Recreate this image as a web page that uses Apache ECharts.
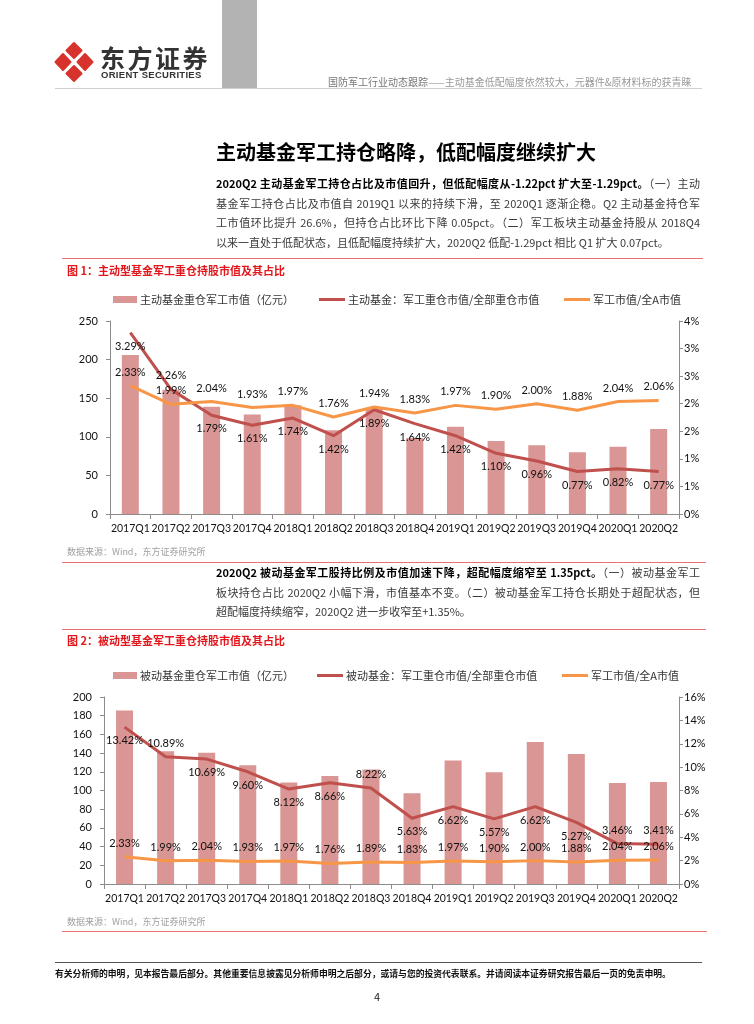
<!DOCTYPE html>
<html>
<head>
<meta charset="utf-8">
<script src="https://cdn.jsdelivr.net/npm/echarts@6/dist/echarts.min.js"></script>
<style>
  html, body { margin: 0; padding: 0; background: #fff; }
  #page { position: relative; width: 754px; height: 1024px; overflow: hidden; font-family: "Noto Sans CJK SC", sans-serif; }
  #chart { position: absolute; left: 0; top: 0; width: 754px; height: 1024px; }
  .t { position: absolute; white-space: nowrap; }
  .line { position: absolute; left: 216px; width: 484px; font-size: 11px; line-height: 19.5px; color: #3a3a3a; white-space: nowrap; text-align: justify; text-align-last: justify; }
  .line b { color: #000; }
  .rule { position: absolute; height: 0; }
</style>
</head>
<body>
<div id="page">
  <div id="chart"></div>

  <!-- header -->
  <div class="t" style="left:222px;top:0;width:35px;height:89px;background:#b3b3b3;"></div>
  <svg class="t" style="left:0;top:0" width="120" height="90">
    <g fill="#d7332c" stroke="#d7332c" stroke-width="2" stroke-linejoin="round">
      <polygon points="74,43 81.5,50.5 74,58 66.5,50.5"/>
      <polygon points="74,66 81.5,73.5 74,81 66.5,73.5"/>
      <polygon points="63,54 70.5,62 63,70 55.5,62"/>
      <polygon points="85,54 92.5,62 85,70 77.5,62"/>
    </g>
  </svg>
  <div class="t" style="left:100px;top:42px;font-size:25px;line-height:30px;font-weight:700;color:#333;letter-spacing:2.5px;">东方证券</div>
  <div class="t" style="left:101px;top:69px;font-size:9.5px;line-height:12px;font-weight:700;color:#333;font-family:'Liberation Sans',sans-serif;letter-spacing:0.3px;">ORIENT SECURITIES</div>
  <div class="t" style="left:328px;top:75px;font-size:10px;line-height:14px;color:#999;"><span style="color:#777">国防军工行业动态跟踪</span>——主动基金低配幅度依然较大，元器件&amp;原材料标的获青睐</div>
  <div class="rule" style="left:55px;top:88px;width:647px;border-top:1.5px solid #d0d0d0;"></div>

  <!-- section 1 -->
  <div class="t" style="left:216px;top:138px;font-size:20px;line-height:28px;font-weight:700;color:#000;">主动基金军工持仓略降，低配幅度继续扩大</div>
  <div class="line" style="top:174px;"><b>2020Q2 主动基金军工持仓占比及市值回升，但低配幅度从-1.22pct 扩大至-1.29pct。</b>（一）主动</div>
  <div class="line" style="top:193.5px;">基金军工持仓占比及市值自 2019Q1 以来的持续下滑，至 2020Q1 逐渐企稳。Q2 主动基金持仓军</div>
  <div class="line" style="top:213px;">工市值环比提升 26.6%，但持仓占比环比下降 0.05pct。（二）军工板块主动基金持股从 2018Q4</div>
  <div class="line" style="top:232.5px;text-align-last:left;">以来一直处于低配状态，且低配幅度持续扩大，2020Q2 低配-1.29pct 相比 Q1 扩大 0.07pct。</div>
  <div class="rule" style="left:62px;top:258px;width:641px;border-top:1.5px solid #e87070;"></div>
  <div class="t" style="left:67px;top:262px;font-size:11px;line-height:16px;font-weight:700;color:#e3161b;">图 1：主动型基金军工重仓持股市值及其占比</div>
  <div class="t" style="left:67px;top:545px;font-size:9px;line-height:13px;color:#a0a0a0;">数据来源：Wind，东方证券研究所</div>
  <div class="rule" style="left:62px;top:562px;width:644px;border-top:1.5px solid #e87070;"></div>

  <!-- section 2 -->
  <div class="line" style="top:563px;"><b>2020Q2 被动基金军工股持比例及市值加速下降，超配幅度缩窄至 1.35pct。</b>（一）被动基金军工</div>
  <div class="line" style="top:582.5px;">板块持仓占比 2020Q2 小幅下滑，市值基本不变。（二）被动基金军工持仓长期处于超配状态，但</div>
  <div class="line" style="top:602px;text-align-last:left;">超配幅度持续缩窄，2020Q2 进一步收窄至+1.35%。</div>
  <div class="rule" style="left:62px;top:629px;width:644px;border-top:1.5px solid #e87070;"></div>
  <div class="t" style="left:67px;top:632px;font-size:11px;line-height:16px;font-weight:700;color:#e3161b;">图 2：被动型基金军工重仓持股市值及其占比</div>
  <div class="t" style="left:67px;top:915px;font-size:9px;line-height:13px;color:#a0a0a0;">数据来源：Wind，东方证券研究所</div>
  <div class="rule" style="left:62px;top:931px;width:645px;border-top:1.5px solid #e87070;"></div>

  <!-- footer -->
  <div class="rule" style="left:55px;top:962px;width:647px;border-top:1px solid #555;"></div>
  <div class="t" style="left:55px;top:967px;font-size:8.8px;line-height:13px;font-weight:700;color:#111;">有关分析师的申明，见本报告最后部分。其他重要信息披露见分析师申明之后部分，或请与您的投资代表联系。并请阅读本证券研究报告最后一页的免责申明。</div>
  <div class="t" style="left:374px;top:989px;font-size:11px;line-height:14px;color:#222;">4</div>
</div>

<script>
// 数据
var categories = ['2017Q1', '2017Q2', '2017Q3', '2017Q4', '2018Q1', '2018Q2', '2018Q3',
                  '2018Q4', '2019Q1', '2019Q2', '2019Q3', '2019Q4', '2020Q1', '2020Q2'];

// 图1 主动基金
var activeValue = [206, 161, 139, 129, 141, 108.5, 137.5, 98.5, 113, 94.5, 89, 80, 87, 110];
var activeShare = [3.29, 2.26, 1.79, 1.61, 1.74, 1.42, 1.89, 1.64, 1.42, 1.10, 0.96, 0.77, 0.82, 0.77];
var militaryShare1 = [2.33, 1.99, 2.04, 1.93, 1.97, 1.76, 1.94, 1.83, 1.97, 1.90, 2.00, 1.88, 2.04, 2.06];

// 图2 被动基金
var passiveValue = [185.5, 142, 140.5, 127, 108.5, 115.5, 122.5, 97, 132, 119.5, 152, 139, 108, 109];
var passiveShare = [13.42, 10.89, 10.69, 9.60, 8.12, 8.66, 8.22, 5.63, 6.62, 5.57, 6.62, 5.27, 3.46, 3.41];
var militaryShare2 = [2.33, 1.99, 2.04, 1.93, 1.97, 1.76, 1.89, 1.83, 1.97, 1.90, 2.00, 1.88, 2.04, 2.06];

// 标签放在线的上方还是下方
var activeLabelPos = ['bottom', 'top', 'bottom', 'bottom', 'bottom', 'bottom', 'bottom',
                      'bottom', 'bottom', 'bottom', 'bottom', 'bottom', 'bottom', 'bottom'];
var passiveLabelPos = ['bottom', 'top', 'bottom', 'bottom', 'bottom', 'bottom', 'top',
                       'bottom', 'bottom', 'bottom', 'bottom', 'bottom', 'top', 'top'];

var BAR = '#d99694', RED = '#c0504d', ORANGE = '#f79646', AXIS = '#8c8c8c';
var numFont = 'Lato, "Liberation Sans", sans-serif';
var cjkFont = '"Noto Sans CJK SC", sans-serif';

var myChart = echarts.init(document.getElementById('chart'));

function xAxisOf(grid) {
  return {
    type: 'category', gridIndex: grid, data: categories, boundaryGap: true,
    axisLine: { lineStyle: { color: AXIS, width: 1 } },
    axisTick: { show: true, alignWithLabel: false, length: 5, lineStyle: { color: AXIS } },
    axisLabel: { color: '#111', fontSize: 10.5, fontFamily: numFont, margin: 9, interval: 0 },
    splitLine: { show: false }
  };
}

function yAxisOf(grid, pos, max, step, fmt) {
  return {
    type: 'value', gridIndex: grid, position: pos, min: 0, max: max, interval: step,
    axisLine: { show: true, lineStyle: { color: AXIS, width: 1 } },
    axisTick: { show: true, length: 4, lineStyle: { color: AXIS } },
    axisLabel: { color: '#111', fontSize: 11, fontFamily: numFont, margin: pos == 'left' ? 12 : 5, formatter: fmt },
    splitLine: { show: false }
  };
}

function pctLabels(vals, posArr) {
  return vals.map(function (v, i) {
    return { value: v, label: { position: posArr ? posArr[i] : 'top' } };
  });
}

var lineLabel = {
  show: true, distance: 8, color: '#111', fontSize: 11, fontFamily: numFont,
  formatter: function (p) { return p.value.toFixed(2) + '%'; }
};

function legendOf(name, icon, left, top, w, h) {
  return {
    data: [{ name: name, icon: icon }], left: left, top: top,
    itemWidth: w, itemHeight: h, padding: 0, selectedMode: false,
    textStyle: { color: '#333', fontSize: 11, fontFamily: cjkFont, padding: [0, 0, 0, -2] }
  };
}

var lineIcon = 'path://M0 0H26V3H0Z';

function lineSeries(name, color, xi, yi, data, z) {
  return {
    name: name, type: 'line', xAxisIndex: xi, yAxisIndex: yi, data: data,
    symbol: 'circle', symbolSize: 0.1, showSymbol: true, smooth: false,
    lineStyle: { color: color, width: 3 }, itemStyle: { color: color },
    label: lineLabel, z: z
  };
}

myChart.setOption({
  animation: false,
  grid: [
    { left: 110, top: 321, width: 569, height: 193 },
    { left: 104, top: 697, width: 575, height: 187 }
  ],
  legend: [
    legendOf('主动基金重仓军工市值（亿元）', 'rect', 113, 294, 24, 7),
    legendOf('主动基金：军工重仓市值/全部重仓市值', lineIcon, 319, 294, 26, 3),
    legendOf('军工市值/全A市值', lineIcon, 564, 294, 26, 3),
    legendOf('被动基金重仓军工市值（亿元）', 'rect', 113, 670, 24, 7),
    legendOf('被动基金：军工重仓市值/全部重仓市值', lineIcon, 317, 670, 26, 3),
    legendOf('军工市值/全A市值', lineIcon, 562, 670, 26, 3)
  ],
  xAxis: [xAxisOf(0), xAxisOf(1)],
  yAxis: [
    yAxisOf(0, 'left', 250, 50),
    yAxisOf(0, 'right', 3.5, 0.5, function (v) { return Math.round(v) + '%'; }),
    yAxisOf(1, 'left', 200, 20),
    yAxisOf(1, 'right', 16, 2, function (v) { return v + '%'; })
  ],
  series: [
    { name: '主动基金重仓军工市值（亿元）', type: 'bar', xAxisIndex: 0, yAxisIndex: 0,
      data: activeValue, barWidth: 17, itemStyle: { color: BAR } },
    lineSeries('主动基金：军工重仓市值/全部重仓市值', RED, 0, 1, pctLabels(activeShare, activeLabelPos), 3),
    lineSeries('军工市值/全A市值', ORANGE, 0, 1, pctLabels(militaryShare1), 4),

    { name: '被动基金重仓军工市值（亿元）', type: 'bar', xAxisIndex: 1, yAxisIndex: 2,
      data: passiveValue, barWidth: 17, itemStyle: { color: BAR } },
    lineSeries('被动基金：军工重仓市值/全部重仓市值', RED, 1, 3, pctLabels(passiveShare, passiveLabelPos), 3),
    lineSeries('军工市值/全A市值', ORANGE, 1, 3, pctLabels(militaryShare2), 4)
  ]
});
</script>
</body>
</html>
